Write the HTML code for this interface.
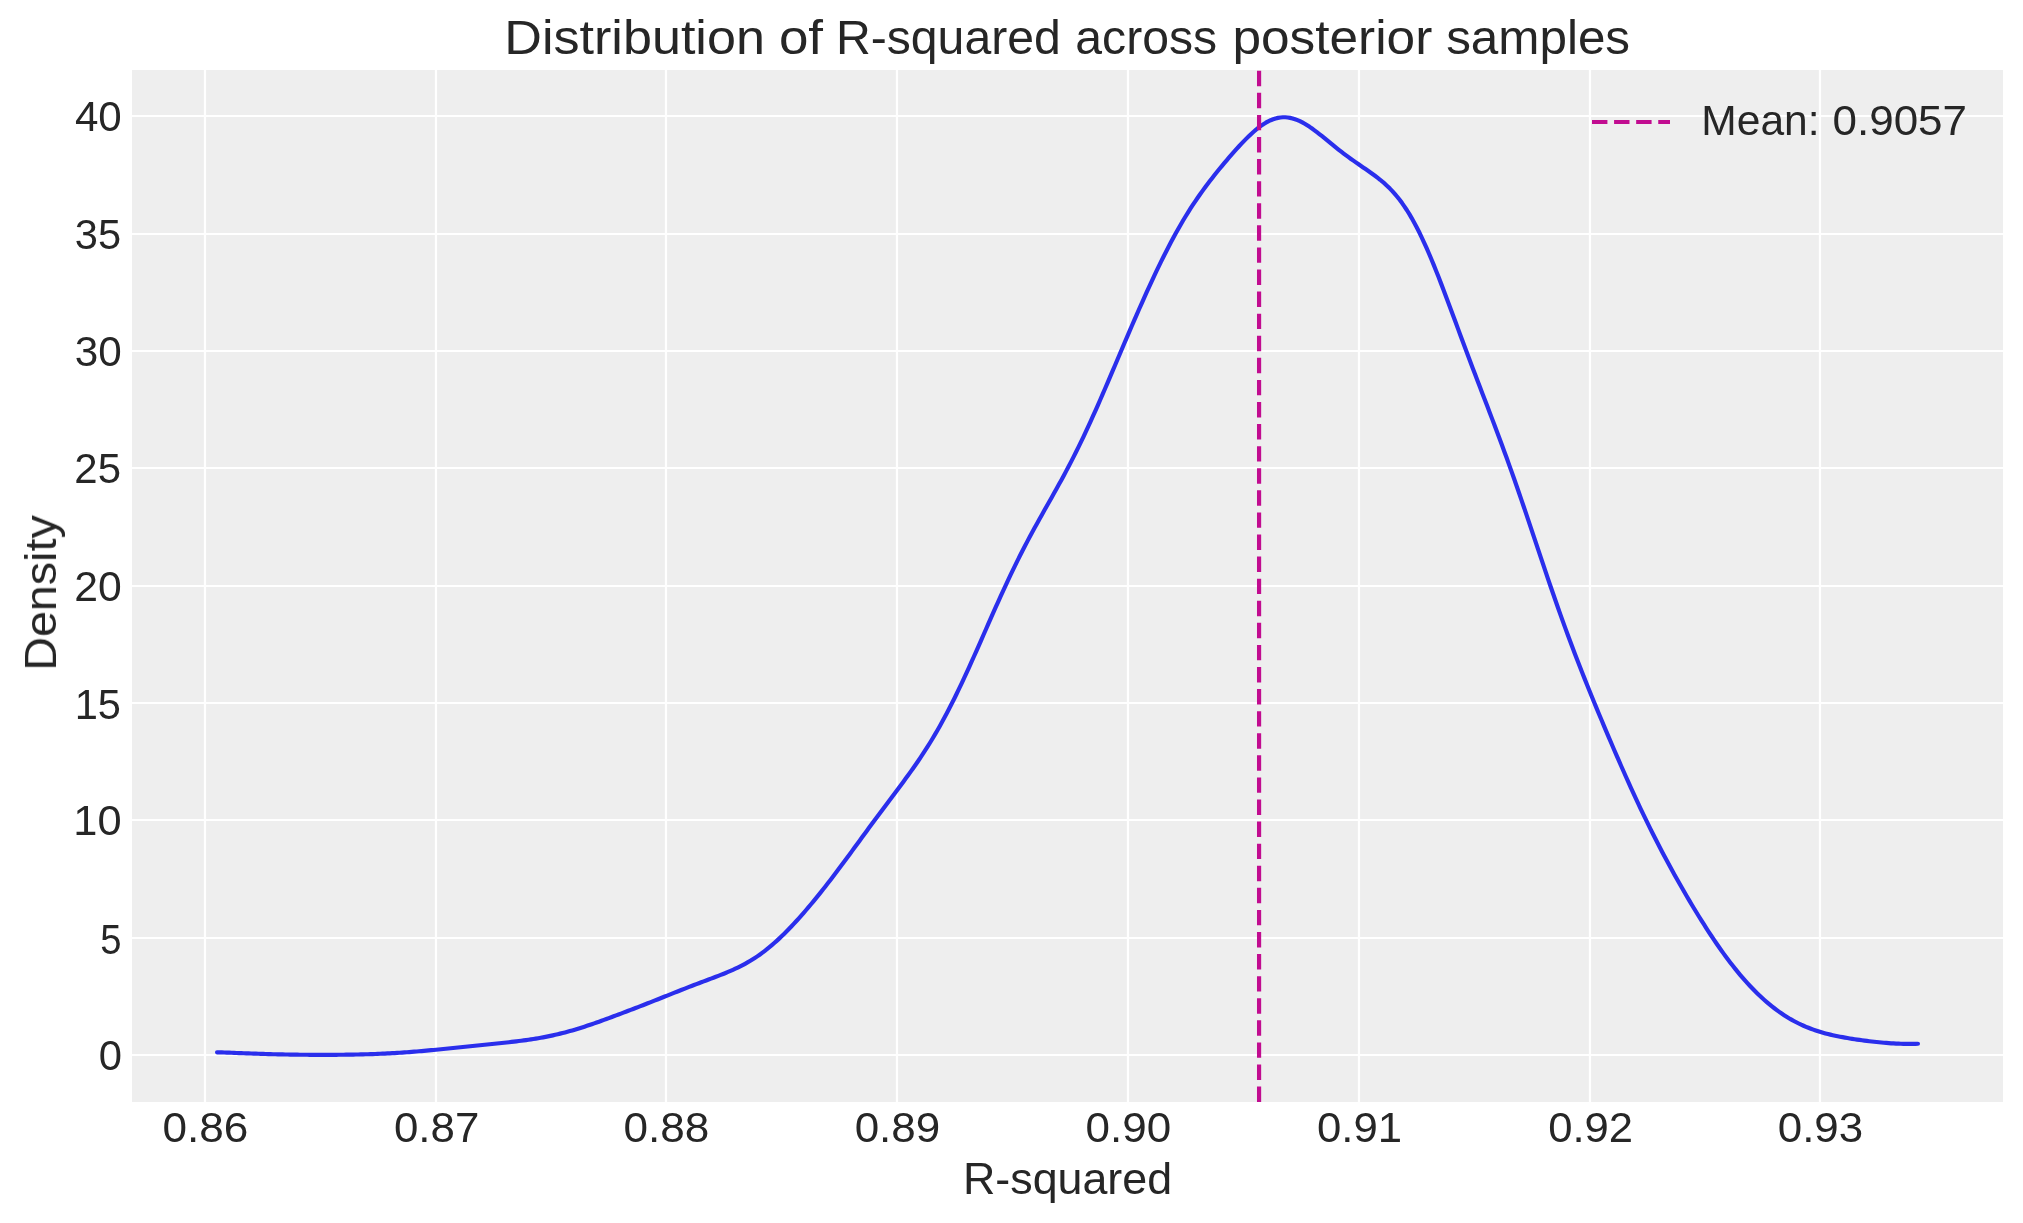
<!DOCTYPE html>
<html lang="en">
<head>
<meta charset="utf-8">
<title>Distribution of R-squared across posterior samples</title>
<style>
html,body{margin:0;padding:0;background:#ffffff;width:2023px;height:1223px;overflow:hidden;font-family:"Liberation Sans",sans-serif;}
svg text{font-family:"Liberation Sans",sans-serif;}
</style>
</head>
<body>
<svg width="2023" height="1223" viewBox="0 0 2023 1223" style="display:block">
<rect x="0" y="0" width="2023" height="1223" fill="#ffffff"/>
<rect x="132" y="70" width="1871" height="1032" fill="#eeeeee"/>
<g stroke="#ffffff" stroke-width="2.22" fill="none">
<line x1="205" y1="70" x2="205" y2="1102"/>
<line x1="436" y1="70" x2="436" y2="1102"/>
<line x1="666" y1="70" x2="666" y2="1102"/>
<line x1="897" y1="70" x2="897" y2="1102"/>
<line x1="1128" y1="70" x2="1128" y2="1102"/>
<line x1="1359" y1="70" x2="1359" y2="1102"/>
<line x1="1590" y1="70" x2="1590" y2="1102"/>
<line x1="1820" y1="70" x2="1820" y2="1102"/>
<line x1="132" y1="1055" x2="2003" y2="1055"/>
<line x1="132" y1="938" x2="2003" y2="938"/>
<line x1="132" y1="820" x2="2003" y2="820"/>
<line x1="132" y1="703" x2="2003" y2="703"/>
<line x1="132" y1="586" x2="2003" y2="586"/>
<line x1="132" y1="468" x2="2003" y2="468"/>
<line x1="132" y1="351" x2="2003" y2="351"/>
<line x1="132" y1="234" x2="2003" y2="234"/>
<line x1="132" y1="116" x2="2003" y2="116"/>
</g>
<path d="M217.05 1052.30 L219.48 1052.37 L221.92 1052.45 L224.35 1052.53 L226.78 1052.61 L229.22 1052.70 L231.65 1052.79 L234.08 1052.88 L236.52 1052.97 L238.95 1053.06 L241.38 1053.15 L243.82 1053.25 L246.25 1053.34 L248.68 1053.43 L251.12 1053.52 L253.55 1053.61 L255.98 1053.69 L258.42 1053.77 L260.85 1053.86 L263.28 1053.93 L265.72 1054.01 L268.15 1054.08 L270.58 1054.15 L273.02 1054.22 L275.45 1054.28 L277.88 1054.34 L280.32 1054.39 L282.75 1054.45 L285.18 1054.50 L287.62 1054.54 L290.05 1054.58 L292.48 1054.62 L294.92 1054.66 L297.35 1054.69 L299.78 1054.72 L302.22 1054.74 L304.65 1054.76 L307.08 1054.78 L309.52 1054.80 L311.95 1054.81 L314.38 1054.82 L316.82 1054.83 L319.25 1054.84 L321.68 1054.84 L324.12 1054.84 L326.55 1054.83 L328.98 1054.83 L331.42 1054.82 L333.85 1054.80 L336.28 1054.79 L338.72 1054.77 L341.15 1054.74 L343.58 1054.72 L346.02 1054.69 L348.45 1054.65 L350.88 1054.61 L353.32 1054.57 L355.75 1054.52 L358.18 1054.47 L360.62 1054.42 L363.05 1054.36 L365.48 1054.29 L367.92 1054.22 L370.35 1054.14 L372.78 1054.06 L375.22 1053.97 L377.65 1053.88 L380.08 1053.78 L382.52 1053.67 L384.95 1053.56 L387.38 1053.44 L389.82 1053.32 L392.25 1053.18 L394.68 1053.05 L397.12 1052.90 L399.55 1052.75 L401.98 1052.59 L404.42 1052.42 L406.85 1052.25 L409.28 1052.07 L411.72 1051.88 L414.15 1051.69 L416.58 1051.49 L419.02 1051.29 L421.45 1051.08 L423.88 1050.86 L426.32 1050.64 L428.75 1050.42 L431.18 1050.19 L433.62 1049.95 L436.05 1049.71 L438.48 1049.47 L440.92 1049.23 L443.35 1048.98 L445.78 1048.74 L448.22 1048.48 L450.65 1048.23 L453.08 1047.98 L455.52 1047.73 L457.95 1047.47 L460.38 1047.22 L462.82 1046.97 L465.25 1046.71 L467.68 1046.46 L470.12 1046.21 L472.55 1045.96 L474.98 1045.71 L477.42 1045.46 L479.85 1045.22 L482.28 1044.97 L484.72 1044.73 L487.15 1044.48 L489.58 1044.23 L492.02 1043.99 L494.45 1043.74 L496.88 1043.49 L499.32 1043.24 L501.75 1042.99 L504.18 1042.73 L506.62 1042.46 L509.05 1042.20 L511.48 1041.92 L513.92 1041.64 L516.35 1041.35 L518.78 1041.05 L521.22 1040.74 L523.65 1040.42 L526.08 1040.09 L528.52 1039.74 L530.95 1039.38 L533.38 1039.01 L535.82 1038.62 L538.25 1038.21 L540.68 1037.78 L543.12 1037.33 L545.55 1036.87 L547.98 1036.39 L550.42 1035.88 L552.85 1035.35 L555.28 1034.81 L557.72 1034.24 L560.15 1033.65 L562.58 1033.04 L565.02 1032.41 L567.45 1031.76 L569.88 1031.08 L572.32 1030.39 L574.75 1029.68 L577.18 1028.94 L579.62 1028.20 L582.05 1027.43 L584.48 1026.65 L586.92 1025.85 L589.35 1025.03 L591.78 1024.21 L594.22 1023.37 L596.65 1022.52 L599.08 1021.66 L601.52 1020.79 L603.95 1019.91 L606.38 1019.03 L608.82 1018.13 L611.25 1017.23 L613.68 1016.33 L616.12 1015.42 L618.55 1014.51 L620.98 1013.59 L623.42 1012.67 L625.85 1011.75 L628.28 1010.82 L630.72 1009.89 L633.15 1008.96 L635.58 1008.02 L638.02 1007.08 L640.45 1006.14 L642.88 1005.19 L645.32 1004.24 L647.75 1003.29 L650.18 1002.34 L652.62 1001.38 L655.05 1000.41 L657.48 999.45 L659.92 998.48 L662.35 997.51 L664.78 996.54 L667.22 995.57 L669.65 994.60 L672.08 993.63 L674.52 992.66 L676.95 991.70 L679.38 990.73 L681.82 989.77 L684.25 988.82 L686.68 987.87 L689.12 986.92 L691.55 985.99 L693.98 985.05 L696.42 984.13 L698.85 983.20 L701.28 982.29 L703.72 981.37 L706.15 980.46 L708.58 979.55 L711.02 978.64 L713.45 977.72 L715.88 976.79 L718.32 975.86 L720.75 974.91 L723.18 973.94 L725.62 972.96 L728.05 971.94 L730.48 970.90 L732.92 969.83 L735.35 968.71 L737.78 967.56 L740.22 966.36 L742.65 965.11 L745.08 963.80 L747.52 962.44 L749.95 961.02 L752.38 959.53 L754.82 957.98 L757.25 956.36 L759.68 954.67 L762.12 952.91 L764.55 951.08 L766.98 949.18 L769.42 947.21 L771.85 945.17 L774.28 943.05 L776.72 940.88 L779.15 938.63 L781.58 936.32 L784.02 933.95 L786.45 931.52 L788.88 929.04 L791.32 926.50 L793.75 923.90 L796.18 921.26 L798.62 918.57 L801.05 915.84 L803.48 913.06 L805.92 910.24 L808.35 907.39 L810.78 904.49 L813.22 901.56 L815.65 898.60 L818.08 895.60 L820.52 892.57 L822.95 889.51 L825.38 886.42 L827.82 883.30 L830.25 880.16 L832.68 876.99 L835.12 873.79 L837.55 870.57 L839.98 867.33 L842.42 864.07 L844.85 860.79 L847.28 857.50 L849.72 854.20 L852.15 850.88 L854.58 847.56 L857.02 844.23 L859.45 840.90 L861.88 837.57 L864.32 834.24 L866.75 830.92 L869.18 827.60 L871.62 824.29 L874.05 820.99 L876.48 817.71 L878.92 814.43 L881.35 811.16 L883.78 807.91 L886.22 804.66 L888.65 801.42 L891.08 798.18 L893.52 794.94 L895.95 791.70 L898.38 788.44 L900.82 785.18 L903.25 781.90 L905.68 778.59 L908.12 775.25 L910.55 771.87 L912.98 768.45 L915.42 764.98 L917.85 761.45 L920.28 757.86 L922.72 754.19 L925.15 750.46 L927.58 746.64 L930.02 742.73 L932.45 738.74 L934.88 734.66 L937.32 730.47 L939.75 726.19 L942.18 721.81 L944.62 717.34 L947.05 712.76 L949.48 708.08 L951.92 703.31 L954.35 698.45 L956.78 693.49 L959.22 688.46 L961.65 683.34 L964.08 678.14 L966.52 672.88 L968.95 667.56 L971.38 662.18 L973.82 656.76 L976.25 651.29 L978.68 645.80 L981.12 640.29 L983.55 634.76 L985.98 629.22 L988.42 623.70 L990.85 618.18 L993.28 612.69 L995.72 607.22 L998.15 601.79 L1000.58 596.41 L1003.02 591.07 L1005.45 585.79 L1007.88 580.58 L1010.32 575.43 L1012.75 570.35 L1015.18 565.34 L1017.62 560.40 L1020.05 555.54 L1022.48 550.75 L1024.92 546.04 L1027.35 541.39 L1029.78 536.81 L1032.22 532.28 L1034.65 527.82 L1037.08 523.40 L1039.52 519.01 L1041.95 514.67 L1044.38 510.34 L1046.82 506.03 L1049.25 501.72 L1051.68 497.40 L1054.12 493.07 L1056.55 488.72 L1058.98 484.33 L1061.42 479.90 L1063.85 475.41 L1066.28 470.87 L1068.72 466.27 L1071.15 461.59 L1073.58 456.84 L1076.02 452.01 L1078.45 447.10 L1080.88 442.11 L1083.32 437.04 L1085.75 431.89 L1088.18 426.66 L1090.62 421.35 L1093.05 415.98 L1095.48 410.54 L1097.92 405.05 L1100.35 399.50 L1102.78 393.90 L1105.22 388.26 L1107.65 382.59 L1110.08 376.89 L1112.52 371.18 L1114.95 365.45 L1117.38 359.71 L1119.82 353.98 L1122.25 348.25 L1124.68 342.54 L1127.12 336.84 L1129.55 331.16 L1131.98 325.51 L1134.42 319.90 L1136.85 314.32 L1139.28 308.78 L1141.72 303.28 L1144.15 297.84 L1146.58 292.44 L1149.02 287.11 L1151.45 281.83 L1153.88 276.62 L1156.32 271.48 L1158.75 266.41 L1161.18 261.42 L1163.62 256.51 L1166.05 251.69 L1168.48 246.95 L1170.92 242.31 L1173.35 237.76 L1175.78 233.31 L1178.22 228.96 L1180.65 224.71 L1183.08 220.56 L1185.52 216.51 L1187.95 212.57 L1190.38 208.72 L1192.82 204.97 L1195.25 201.31 L1197.68 197.74 L1200.12 194.25 L1202.55 190.85 L1204.98 187.52 L1207.42 184.26 L1209.85 181.06 L1212.28 177.92 L1214.72 174.83 L1217.15 171.79 L1219.58 168.80 L1222.02 165.84 L1224.45 162.93 L1226.88 160.05 L1229.32 157.20 L1231.75 154.40 L1234.18 151.63 L1236.62 148.91 L1239.05 146.24 L1241.48 143.63 L1243.92 141.08 L1246.35 138.60 L1248.78 136.21 L1251.22 133.91 L1253.65 131.71 L1256.08 129.63 L1258.52 127.68 L1260.95 125.87 L1263.38 124.20 L1265.82 122.70 L1268.25 121.36 L1270.68 120.21 L1273.12 119.23 L1275.55 118.45 L1277.98 117.86 L1280.42 117.47 L1282.85 117.28 L1285.28 117.29 L1287.72 117.49 L1290.15 117.88 L1292.58 118.45 L1295.02 119.20 L1297.45 120.12 L1299.88 121.20 L1302.32 122.43 L1304.75 123.79 L1307.18 125.27 L1309.62 126.86 L1312.05 128.55 L1314.48 130.32 L1316.92 132.15 L1319.35 134.04 L1321.78 135.98 L1324.22 137.94 L1326.65 139.92 L1329.08 141.91 L1331.52 143.89 L1333.95 145.87 L1336.38 147.82 L1338.82 149.76 L1341.25 151.66 L1343.68 153.53 L1346.12 155.37 L1348.55 157.17 L1350.98 158.94 L1353.42 160.67 L1355.85 162.38 L1358.28 164.07 L1360.72 165.74 L1363.15 167.41 L1365.58 169.08 L1368.02 170.75 L1370.45 172.46 L1372.88 174.20 L1375.32 175.99 L1377.75 177.84 L1380.18 179.77 L1382.62 181.80 L1385.05 183.93 L1387.48 186.19 L1389.92 188.58 L1392.35 191.13 L1394.78 193.84 L1397.22 196.73 L1399.65 199.81 L1402.08 203.08 L1404.52 206.57 L1406.95 210.26 L1409.38 214.18 L1411.82 218.32 L1414.25 222.67 L1416.68 227.25 L1419.12 232.05 L1421.55 237.05 L1423.98 242.26 L1426.42 247.66 L1428.85 253.24 L1431.28 258.99 L1433.72 264.89 L1436.15 270.94 L1438.58 277.10 L1441.02 283.37 L1443.45 289.73 L1445.88 296.16 L1448.32 302.65 L1450.75 309.18 L1453.18 315.74 L1455.62 322.30 L1458.05 328.87 L1460.48 335.43 L1462.92 341.98 L1465.35 348.50 L1467.78 354.99 L1470.22 361.46 L1472.65 367.90 L1475.08 374.31 L1477.52 380.69 L1479.95 387.06 L1482.38 393.42 L1484.82 399.77 L1487.25 406.12 L1489.68 412.49 L1492.12 418.87 L1494.55 425.29 L1496.98 431.74 L1499.42 438.25 L1501.85 444.80 L1504.28 451.41 L1506.72 458.09 L1509.15 464.84 L1511.58 471.65 L1514.02 478.53 L1516.45 485.49 L1518.88 492.50 L1521.32 499.58 L1523.75 506.71 L1526.18 513.89 L1528.62 521.11 L1531.05 528.36 L1533.48 535.62 L1535.92 542.90 L1538.35 550.18 L1540.78 557.45 L1543.22 564.69 L1545.65 571.91 L1548.08 579.08 L1550.52 586.21 L1552.95 593.28 L1555.38 600.28 L1557.82 607.22 L1560.25 614.08 L1562.68 620.88 L1565.12 627.59 L1567.55 634.22 L1569.98 640.78 L1572.42 647.26 L1574.85 653.67 L1577.28 660.01 L1579.72 666.28 L1582.15 672.48 L1584.58 678.63 L1587.02 684.72 L1589.45 690.76 L1591.88 696.75 L1594.32 702.70 L1596.75 708.61 L1599.18 714.47 L1601.62 720.31 L1604.05 726.10 L1606.48 731.87 L1608.92 737.60 L1611.35 743.30 L1613.78 748.96 L1616.22 754.59 L1618.65 760.19 L1621.08 765.74 L1623.52 771.26 L1625.95 776.73 L1628.38 782.15 L1630.82 787.53 L1633.25 792.86 L1635.68 798.13 L1638.12 803.35 L1640.55 808.52 L1642.98 813.63 L1645.42 818.68 L1647.85 823.67 L1650.28 828.60 L1652.72 833.48 L1655.15 838.30 L1657.58 843.06 L1660.02 847.77 L1662.45 852.42 L1664.88 857.02 L1667.32 861.56 L1669.75 866.06 L1672.18 870.51 L1674.62 874.91 L1677.05 879.26 L1679.48 883.57 L1681.92 887.84 L1684.35 892.06 L1686.78 896.24 L1689.22 900.37 L1691.65 904.46 L1694.08 908.51 L1696.52 912.51 L1698.95 916.47 L1701.38 920.37 L1703.82 924.23 L1706.25 928.04 L1708.68 931.80 L1711.12 935.50 L1713.55 939.15 L1715.98 942.73 L1718.42 946.26 L1720.85 949.73 L1723.28 953.13 L1725.72 956.46 L1728.15 959.73 L1730.58 962.94 L1733.02 966.07 L1735.45 969.13 L1737.88 972.12 L1740.32 975.04 L1742.75 977.89 L1745.18 980.67 L1747.62 983.37 L1750.05 986.00 L1752.48 988.55 L1754.92 991.03 L1757.35 993.44 L1759.78 995.77 L1762.22 998.04 L1764.65 1000.22 L1767.08 1002.34 L1769.52 1004.39 L1771.95 1006.36 L1774.38 1008.26 L1776.82 1010.09 L1779.25 1011.85 L1781.68 1013.54 L1784.12 1015.16 L1786.55 1016.71 L1788.98 1018.20 L1791.42 1019.62 L1793.85 1020.97 L1796.28 1022.26 L1798.72 1023.49 L1801.15 1024.66 L1803.58 1025.76 L1806.02 1026.81 L1808.45 1027.80 L1810.88 1028.74 L1813.32 1029.63 L1815.75 1030.47 L1818.18 1031.26 L1820.62 1032.01 L1823.05 1032.72 L1825.48 1033.39 L1827.92 1034.02 L1830.35 1034.61 L1832.78 1035.18 L1835.22 1035.72 L1837.65 1036.23 L1840.08 1036.71 L1842.52 1037.17 L1844.95 1037.62 L1847.38 1038.04 L1849.82 1038.45 L1852.25 1038.84 L1854.68 1039.22 L1857.12 1039.58 L1859.55 1039.93 L1861.98 1040.27 L1864.42 1040.59 L1866.85 1040.91 L1869.28 1041.21 L1871.72 1041.50 L1874.15 1041.78 L1876.58 1042.04 L1879.02 1042.29 L1881.45 1042.53 L1883.88 1042.75 L1886.32 1042.95 L1888.75 1043.14 L1891.18 1043.30 L1893.62 1043.45 L1896.05 1043.58 L1898.48 1043.69 L1900.92 1043.77 L1903.35 1043.84 L1905.78 1043.88 L1908.22 1043.91 L1910.65 1043.91 L1913.08 1043.89 L1915.52 1043.84 L1917.95 1043.78" fill="none" stroke="#2a2eec" stroke-width="4.17" stroke-linecap="round" stroke-linejoin="round"/>
<line x1="1259.07" y1="1102" x2="1259.07" y2="70" stroke="#c10c90" stroke-width="4.17" stroke-dasharray="15.417 6.667"/>
<line x1="1592.0" y1="122" x2="1670.0" y2="122" stroke="#c10c90" stroke-width="4.17" stroke-dasharray="15.417 6.667"/>
<g font-family="Liberation Sans, sans-serif" fill="#262626" opacity="0.999">
<text transform="translate(504.26 54) scale(1.0858 1)" font-size="48.00">Distribution</text>
<text transform="translate(778.89 54) scale(1.1026 1)" font-size="48.00">of</text>
<text transform="translate(835.88 54) scale(1.0041 1)" font-size="48.00">R-squared</text>
<text transform="translate(1075.29 54) scale(1.0033 1)" font-size="48.00">across</text>
<text transform="translate(1232.39 54) scale(1.0705 1)" font-size="48.00">posterior</text>
<text transform="translate(1446.16 54) scale(1.0291 1)" font-size="48.00">samples</text>
<text transform="translate(962.97 1194) scale(0.9936 1)" font-size="45.10">R-squared</text>
<text transform="translate(1701.32 135) scale(1.0077 1)" font-size="42.20">Mean:</text>
<text transform="translate(1832.58 135) scale(1.0419 1)" font-size="42.20">0.9057</text>
<text transform="translate(162.52 1142) scale(1.0459 1)" font-size="42.20">0.86</text>
<text transform="translate(393.91 1142) scale(1.0396 1)" font-size="42.20">0.87</text>
<text transform="translate(623.52 1142) scale(1.0459 1)" font-size="42.20">0.88</text>
<text transform="translate(854.65 1142) scale(1.0427 1)" font-size="42.20">0.89</text>
<text transform="translate(1085.53 1142) scale(1.0425 1)" font-size="42.20">0.90</text>
<text transform="translate(1317.04 1142) scale(1.0364 1)" font-size="42.20">0.91</text>
<text transform="translate(1548.17 1142) scale(1.0332 1)" font-size="42.20">0.92</text>
<text transform="translate(1777.78 1142) scale(1.0395 1)" font-size="42.20">0.93</text>
<text transform="translate(98.67 1070) scale(0.9900 1)" font-size="42.20">0</text>
<text transform="translate(100.32 954) scale(0.9050 1)" font-size="42.20">5</text>
<text transform="translate(73.36 835) scale(1.0286 1)" font-size="42.20">10</text>
<text transform="translate(74.70 719) scale(0.9857 1)" font-size="42.20">15</text>
<text transform="translate(74.27 601) scale(1.0127 1)" font-size="42.20">20</text>
<text transform="translate(74.31 483) scale(0.9942 1)" font-size="42.20">25</text>
<text transform="translate(74.75 366) scale(1.0023 1)" font-size="42.20">30</text>
<text transform="translate(74.77 249) scale(0.9862 1)" font-size="42.20">35</text>
<text transform="translate(74.90 131) scale(0.9989 1)" font-size="42.20">40</text>
<text transform="translate(56 670.68) rotate(-90) scale(1.0341 1)" font-size="45.10">Density</text>
</g>
</svg>
</body>
</html>
